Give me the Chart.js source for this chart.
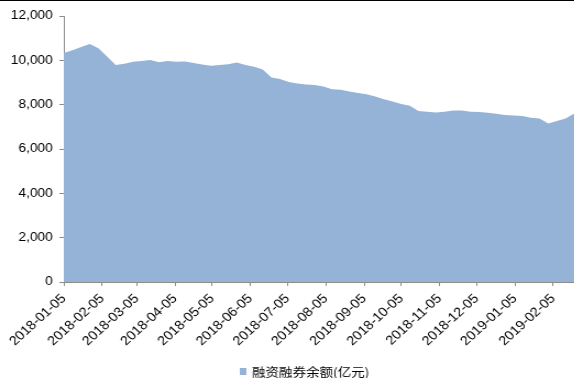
<!DOCTYPE html>
<html>
<head>
<meta charset="utf-8">
<script src="https://cdn.jsdelivr.net/npm/chart.js@4"></script>
<style>
  html, body { margin: 0; padding: 0; background: #fff; overflow: hidden; }
  #wrap { position: absolute; left: 0; top: 0; width: 522px; height: 378px; transform: scaleX(1.1); transform-origin: 0 0; }
  #topline { position: absolute; left: 0; top: 0; width: 574px; height: 1px; background: #000; }
</style>
</head>
<body>
<div id="wrap"><canvas id="c" width="522" height="378" style="width:522px;height:378px"></canvas></div>
<div id="topline"></div>
<script>
// weekly margin balance, first observation on 2018-01-05
const startDate = '2018-01-05';
const seriesName = '融资融券余额(亿元)';
const tickLabels = ['2018-01-05', '2018-02-05', '2018-03-05', '2018-04-05', '2018-05-05', '2018-06-05', '2018-07-05',
  '2018-08-05', '2018-09-05', '2018-10-05', '2018-11-05', '2018-12-05', '2019-01-05', '2019-02-05'];
const balance = [
  10330, 10460, 10600, 10740, 10540, 10170, 9790, 9845, 9935, 9965,
  10010, 9910, 9965, 9935, 9950, 9875, 9810, 9755, 9785, 9820,
  9905, 9790, 9710, 9590, 9230, 9155, 9020, 8950, 8905, 8885,
  8815, 8700, 8670, 8590, 8530, 8475, 8365, 8250, 8140, 8025,
  7950, 7710, 7685, 7650, 7675, 7740, 7740, 7675, 7665, 7640,
  7595, 7530, 7515, 7485, 7415, 7380, 7155, 7265, 7380, 7605
];
const yTicks = [0, 2000, 4000, 6000, 8000, 10000, 12000];

const DAY = 86400000;
const t0 = Date.parse(startDate);
const tickDays = tickLabels.map(s => Math.round((Date.parse(s) - t0) / DAY));
const points = balance.map((v, i) => ({ x: i * 7, y: v }));

const axisColor = '#8c8c8c';
const fontFamily = '"Liberation Sans", Arial, sans-serif';

// legend drawn under the rotated date labels
const bottomLegend = {
  id: 'bottomLegend',
  afterDraw(chart) {
    const ctx = chart.ctx, ds = chart.data.datasets[0];
    ctx.save();
    ctx.fillStyle = ds.backgroundColor;
    ctx.fillRect(218, 368, 6, 7);
    ctx.fillStyle = '#000';
    ctx.font = '12.3px "Noto Sans CJK SC"';
    ctx.textBaseline = 'middle';
    ctx.textAlign = 'left';
    ctx.fillText(ds.label, 229, 372);
    ctx.restore();
  }
};

new Chart(document.getElementById('c'), {
  type: 'line',
  data: {
    datasets: [{
      label: seriesName, data: points,
      backgroundColor: '#95b3d7', borderColor: '#95b3d7', borderWidth: 0,
      fill: 'origin', pointRadius: 0, tension: 0
    }]
  },
  options: {
    responsive: false, animation: false,
    layout: { padding: { top: 16, right: 0, bottom: 0, left: 0 } },
    plugins: { legend: { display: false }, tooltip: { enabled: false } },
    scales: {
      x: {
        type: 'linear', min: 0, max: (balance.length - 1) * 7,
        afterBuildTicks: s => { s.ticks = tickDays.map(v => ({ value: v })); },
        afterFit: s => { s.height = 96; },
        border: { display: true, color: axisColor },
        grid: { drawOnChartArea: false, drawTicks: true, tickLength: 4, color: axisColor },
        ticks: {
          autoSkip: false, minRotation: 45, maxRotation: 45, padding: 5,
          color: '#000', font: { family: fontFamily, size: 13 },
          callback: v => tickLabels[tickDays.indexOf(v)]
        }
      },
      y: {
        min: 0, max: 12000,
        afterBuildTicks: s => { s.ticks = yTicks.map(v => ({ value: v })); },
        afterFit: s => { s.width = 58; },
        border: { display: true, color: axisColor },
        grid: { drawOnChartArea: false, drawTicks: true, tickLength: 4, color: axisColor },
        ticks: { padding: 6, color: '#000', font: { family: fontFamily, size: 12.5 }, callback: v => v.toLocaleString('en-US') }
      }
    }
  },
  plugins: [bottomLegend]
});
</script>
</body>
</html>
